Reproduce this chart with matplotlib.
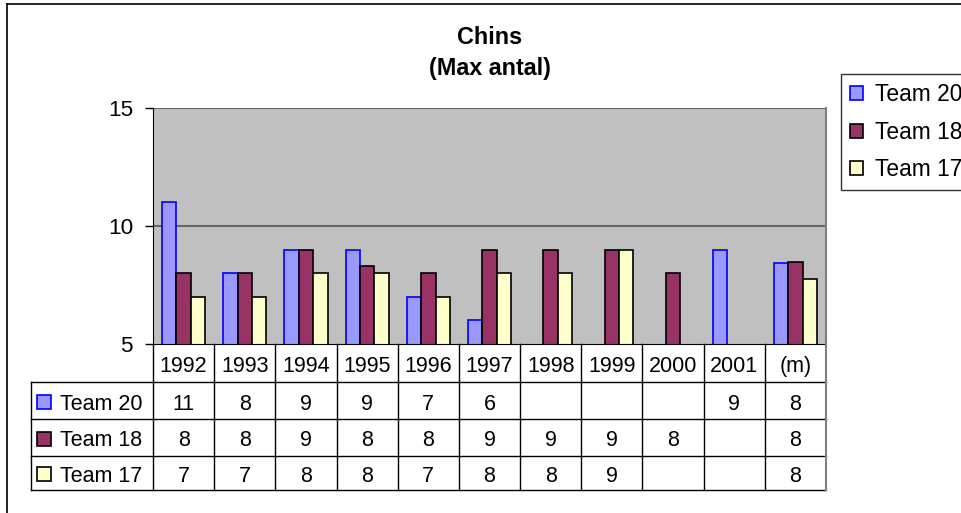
import numpy as np
import matplotlib
matplotlib.use("Agg")
import matplotlib.pyplot as plt
from matplotlib.patches import Rectangle

plt.rcParams['font.family'] = ['Liberation Sans', 'DejaVu Sans']

# data
categories = ['1992', '1993', '1994', '1995', '1996', '1997', '1998', '1999', '2000', '2001', '(m)']
series_names = ['Team 20', 'Team 18', 'Team 17']
team20 = [11, 8, 9, 9, 7, 6, np.nan, np.nan, np.nan, 9, 8.43]
team18 = [8, 8, 9, 8.3, 8, 9, 9, 9, 8, np.nan, 8.48]
team17 = [7, 7, 8, 8, 7, 8, 8, 9, np.nan, np.nan, 7.75]
y_ticks = [5, 10, 15]

fills = ['#9999FF', '#993366', '#FFFFCC']
edges = ['#0000FF', '#000000', '#000000']

W, H = 962, 513
fig = plt.figure(figsize=(W / 100, H / 100), dpi=100)
fig.patch.set_facecolor('white')

# plot area, positioned in pixels
L, R, T, B = 153, 826, 108, 344
ax = fig.add_axes([L / W, 1 - B / H, (R - L) / W, (B - T) / H])
ax.set_facecolor('#C0C0C0')
ax.set_xlim(-0.5, len(categories) - 0.5)
ax.set_ylim(5, 15)
ax.set_yticks(y_ticks)
ax.set_yticklabels([str(t) for t in y_ticks], fontsize=16.2)
ax.tick_params(axis='y', length=5.8, width=1, color='#000000', pad=8.6)
ax.set_xticks([])
for yv in y_ticks[1:]:
    ax.axhline(yv, color='#666666', lw=1.5, zorder=1)
ax.spines['left'].set_color('#000000')
ax.spines['bottom'].set_color('#000000')
ax.spines['top'].set_visible(False)
ax.spines['right'].set_color('#808080')
ax.spines['right'].set_linewidth(1.5)

x = np.arange(len(categories))
bw = 0.235
handles = []
for i, vals in enumerate([team20, team18, team17]):
    v = np.array(vals, dtype=float)
    ok = np.isfinite(v)
    h = ax.bar(x[ok] + (i - 1) * bw, v[ok], bw, color=fills[i],
               edgecolor=edges[i], linewidth=1.2, zorder=2)
    handles.append(h)

# title
fig.text(490 / W, 1 - 37 / H, 'Chins', ha='center', va='center',
         fontsize=16.8, fontweight='bold')
fig.text(490 / W, 1 - 69 / H, '(Max antal)', ha='center', va='center',
         fontsize=16.8, fontweight='bold')

# legend, runs off the right edge
leg = fig.legend(handles, series_names, loc='upper left',
                 bbox_to_anchor=(841 / W, 1 - 74 / H), fontsize=16.4,
                 frameon=True, fancybox=False, edgecolor='#000000',
                 handlelength=0.57, handleheight=0.57, handletextpad=0.53,
                 labelspacing=0.64, borderpad=0.4, borderaxespad=0)
leg.get_frame().set_linewidth(1)

# overlay in pixel coordinates for the frame and data table
ov = fig.add_axes([0, 0, 1, 1], zorder=5)
ov.set_xlim(0, W)
ov.set_ylim(H, 0)
ov.axis('off')
ov.patch.set_alpha(0)

# outer chart frame
ov.plot([7, 7], [4, H], color='#000000', lw=1.2)
ov.plot([7, W], [4, 4], color='#000000', lw=1.2)

col_w = (R - L) / len(categories)
rows = [B, 382, 419, 456, 490]
lab_l = 31
dy = 3.5  # nudge text down onto the row centre

# header row: years
for j, c in enumerate(categories):
    ov.text(L + (j + 0.5) * col_w, (rows[0] + rows[1]) / 2 + dy, c,
            ha='center', va='center', fontsize=15.5)
# values
for r, vals in enumerate([team20, team18, team17]):
    yc = (rows[r + 1] + rows[r + 2]) / 2
    for j, v in enumerate(vals):
        if np.isfinite(v):
            ov.text(L + (j + 0.5) * col_w, yc + dy, '%.0f' % v,
                    ha='center', va='center', fontsize=15.5)
    ov.add_patch(Rectangle((37, yc - 6), 14, 14, facecolor=fills[r],
                           edgecolor=edges[r], lw=1.2))
    ov.text(60, yc + dy, series_names[r], ha='left', va='center', fontsize=15.5)

# table grid
for yy in rows[1:]:
    ov.plot([lab_l, R], [yy, yy], color='#000000', lw=1)
for j in range(len(categories)):
    xx = L + j * col_w
    ov.plot([xx, xx], [rows[0], rows[-1]], color='#000000', lw=1)
ov.plot([R, R], [rows[0], rows[-1]], color='#808080', lw=1.5)
ov.plot([lab_l, lab_l], [rows[1], rows[-1]], color='#000000', lw=1)

fig.savefig('out.png', dpi=100)
